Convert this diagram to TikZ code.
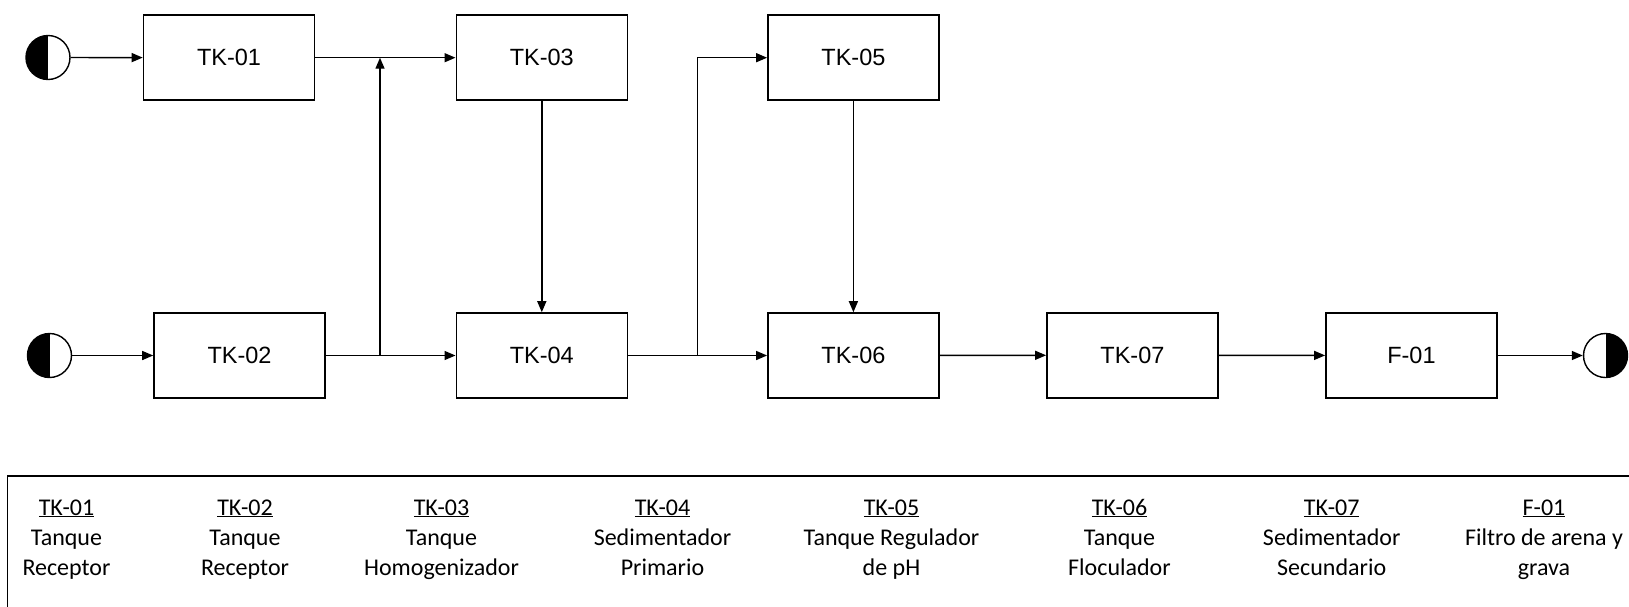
\documentclass[tikz,border=0pt]{standalone}
\usepackage{fontspec}
\setmainfont{Carlito}
\newfontfamily\arialf{Liberation Sans}
\usetikzlibrary{arrows.meta}
\begin{document}
\begin{tikzpicture}[x=1pt,y=-1pt,
  tank/.style={draw, line width=1.6pt, minimum width=171pt, minimum height=85pt, inner sep=0pt,
    font=\arialf\fontsize{23.5}{28}\selectfont},
  flow/.style={line width=1.4pt, -{Triangle[length=11pt,width=9pt]}},
  pipe/.style={line width=1.4pt},
  termL/.style={circle, draw, line width=1.4pt, minimum size=44pt, inner sep=0pt,
    path picture={\fill (path picture bounding box.south west) rectangle (path picture bounding box.north);}},
  termR/.style={circle, draw, line width=1.4pt, minimum size=44pt, inner sep=0pt,
    path picture={\fill (path picture bounding box.south east) rectangle (path picture bounding box.north);}},
  leg/.style={anchor=base, inner sep=0pt, font=\fontsize{24}{30}\selectfont}
]
\useasboundingbox (0,0) rectangle (1629,606);
\clip (0,0) rectangle (1629,606);

% terminals
\node[termL] (c1) at (48,57.5) {};
\node[termL] (c2) at (49.5,355.5) {};
\node[termR] (c3) at (1605.5,355.5) {};

% tanks
\node[tank] (tk01) at (229,57.7) {TK-01};
\node[tank] (tk03) at (541.8,57.7) {TK-03};
\node[tank] (tk05) at (853.4,57.7) {TK-05};
\node[tank] (tk02) at (239.5,355.5) {TK-02};
\node[tank] (tk04) at (541.8,355.5) {TK-04};
\node[tank] (tk06) at (853.4,355.5) {TK-06};
\node[tank] (tk07) at (1132.4,355.2) {TK-07};
\node[tank] (f01) at (1411.4,355.5) {F-01};

% junctions
\coordinate (j1) at (380,355.5);
\coordinate (j2) at (697.3,355.5);

% connectors
\draw[flow] (c1) -- (tk01);
\draw[flow] (tk01) -- (tk03);
\draw[flow] (c2) -- (tk02);
\draw[flow] (tk02) -- (tk04);
\draw[flow] (j1) -- (j1 |- tk01.east);
\draw[flow] (tk03) -- (tk04);
\draw[flow] (tk04) -- (tk06);
\draw[flow] (j2) -- (j2 |- tk05.west) -- (tk05.west);
\draw[flow] (tk05) -- (tk06);
\draw[flow] (tk06) -- (tk07);
\draw[flow] (tk07) -- (f01);
\draw[flow] (f01) -- (c3);

% legend frame
\draw[line width=1.5pt] (7.5,476) rectangle (1660,640);

% legend texts
\node[leg] (l1a) at (66.5,515) {\underline{TK-01}};
\node[leg] (l1b) at (66.5,545) {Tanque};
\node[leg] (l1c) at (66.5,575) {Receptor};

\node[leg] (l2a) at (245,515) {\underline{TK-02}};
\node[leg] (l2b) at (245,545) {Tanque};
\node[leg] (l2c) at (245,575) {Receptor};

\node[leg] (l3a) at (441.5,515) {\underline{TK-03}};
\node[leg] (l3b) at (441.5,545) {Tanque};
\node[leg] (l3c) at (441.5,575) {Homogenizador};

\node[leg] (l4a) at (662.5,515) {\underline{TK-04}};
\node[leg] (l4b) at (662.5,545) {Sedimentador};
\node[leg] (l4c) at (662.5,575) {Primario};

\node[leg] (l5a) at (891.5,515) {\underline{TK-05}};
\node[leg] (l5b) at (891.5,545) {Tanque Regulador};
\node[leg] (l5c) at (891.5,575) {de pH};

\node[leg] (l6a) at (1119.5,515) {\underline{TK-06}};
\node[leg] (l6b) at (1119.5,545) {Tanque};
\node[leg] (l6c) at (1119.5,575) {Floculador};

\node[leg] (l7a) at (1331.7,515) {\underline{TK-07}};
\node[leg] (l7b) at (1331.7,545) {Sedimentador};
\node[leg] (l7c) at (1331.7,575) {Secundario};

\node[leg] (l8a) at (1544,515) {\underline{F-01}};
\node[leg] (l8b) at (1544,545) {Filtro de arena y};
\node[leg] (l8c) at (1544,575) {grava};
\end{tikzpicture}
\end{document}
